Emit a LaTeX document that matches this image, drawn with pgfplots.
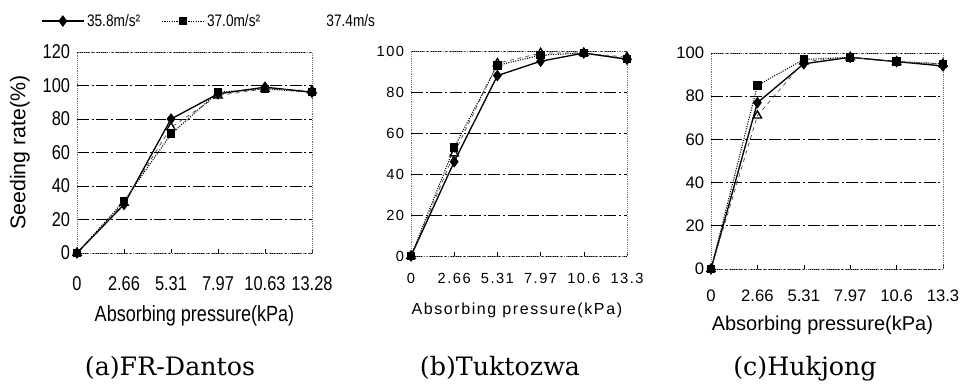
\documentclass[border=0pt]{standalone}
\usepackage{fontspec}
\setsansfont{Liberation Sans}
\newfontfamily\narrowsf[FakeStretch=0.82]{Liberation Sans}
\newfontfamily\spacedsf[LetterSpace=10]{Liberation Sans}
\newfontfamily\capfont{DejaVu Serif}
\usepackage{graphicx}
\usepackage{pgfplots}
\pgfplotsset{compat=1.18}

\pgfplotsset{
  panel/.style={
    scale only axis, clip=false, anchor=south west,
    xmin=0, xmax=5, xtick={0,1,2,3,4,5},
    ymin=0, ytick distance=20,
    axis line style={black!55, densely dotted},
    ymajorgrids,
    major grid style={black, line width=0.5pt, dash pattern=on 9pt off 2pt on 1.5pt off 2pt},
    xtick pos=bottom, ytick pos=left, tick align=inside,
    major tick length=3pt,
    xtick style={black, solid, thin}, ytick style={draw=none},
    /pgf/number format/assume math mode=true,
    xticklabel style={anchor=center},
    yticklabel style={anchor=east, inner sep=0pt, xshift=-5pt},
    every axis x label/.style={anchor=center},
    legend image code/.code={\draw[mark repeat=2,mark phase=2,##1] plot coordinates {(0cm,0cm) (0.55cm,0cm) (1.1cm,0cm)};},
  },
  sA/.style={black, line width=1pt, mark=diamond*, mark size=3.6pt, mark options={solid}},
  sB/.style={black, line width=0.8pt, densely dotted, mark=square*, mark size=2.8pt, mark options={solid}},
  sC/.style={black!75, line width=0.5pt, dashed, mark=triangle, mark size=3.6pt, mark options={solid, black, line width=1pt}},
}

\begin{document}
\begin{tikzpicture}
\path[use as bounding box] (0pt,0pt) rectangle (724.5pt,287.25pt);

% ---------- (a) FR-Dantos ----------
\begin{axis}[panel,
  at={(57.75pt,97.5pt)}, width=176.25pt, height=150.75pt,
  ymax=120,
  xticklabels={0,2.66,5.31,7.97,10.63,13.28},
  ticklabel style={font=\narrowsf\fontsize{15}{17}\selectfont},
  xticklabel style={yshift=-23.25pt},
  xlabel={Absorbing pressure(kPa)},
  xlabel style={at={(axis description cs:0.50,0)}, yshift=-47.25pt, font=\narrowsf\fontsize{16.5}{19}\selectfont},
  ylabel={Seeding rate(\%)},
  every axis y label/.style={at={(axis description cs:-0.243,0.5)}, anchor=center, rotate=90, font=\sffamily\fontsize{16}{18}\selectfont},
  legend style={at={(axis description cs:-0.153,1.154)}, anchor=west, draw=none, fill=none,
    font=\narrowsf\fontsize{12.5}{14}\selectfont, inner sep=0pt,
    /tikz/every even column/.append style={column sep=14pt}},
  legend columns=3,
]
\addplot[sA] coordinates {(0,0) (1,29) (2,80) (3,95) (4,99) (5,96)};
\addlegendentry{35.8m/s²}
\addplot[sB] coordinates {(0,0) (1,31) (2,71) (3,96) (4,98) (5,96)};
\addlegendentry{37.0m/s²}
\addplot[sC, forget plot] coordinates {(0,0) (1,30) (2,75) (3,94) (4,98) (5,97)};
\addlegendimage{white, draw opacity=0}
\addlegendentry{37.4m/s}
\end{axis}

% ---------- (b) Tuktozwa ----------
\begin{axis}[panel,
  at={(308.25pt,95.25pt)}, width=162pt, height=153.75pt,
  ymax=100,
  xticklabels={0,2.66,5.31,7.97,10.6,13.3},
  ticklabel style={font=\spacedsf\fontsize{11}{13}\selectfont},
  xticklabel style={yshift=-16.5pt},
  xlabel={Absorbing pressure(kPa)},
  xlabel style={at={(axis description cs:0.49,0)}, yshift=-40.5pt, font=\spacedsf\fontsize{12}{14}\selectfont},
]
\addplot[sA] coordinates {(0,0) (1,46) (2,88) (3,95) (4,99) (5,96)};
\addplot[sB] coordinates {(0,0) (1,53) (2,93) (3,98) (4,99) (5,96)};
\addplot[sC] coordinates {(0,0) (1,50) (2,94) (3,99) (4,99) (5,97)};
\end{axis}

% ---------- (c) Hukjong ----------
\begin{axis}[panel,
  at={(533.25pt,85.5pt)}, width=174pt, height=162pt,
  ymax=100,
  xticklabels={0,2.66,5.31,7.97,10.6,13.3},
  ticklabel style={font=\sffamily\fontsize{12.5}{14}\selectfont},
  xticklabel style={yshift=-20.25pt},
  xlabel={Absorbing pressure(kPa)},
  xlabel style={at={(axis description cs:0.48,0)}, yshift=-42pt, font=\sffamily\fontsize{15}{17}\selectfont},
]
\addplot[sA] coordinates {(0,0) (1,77) (2,95) (3,98) (4,96) (5,94)};
\addplot[sB] coordinates {(0,0) (1,85) (2,97) (3,98) (4,96) (5,95)};
\addplot[sC] coordinates {(0,0) (1,71) (2,96) (3,98) (4,96) (5,95)};
\end{axis}

% ---------- captions ----------
\node[anchor=base, font=\capfont\fontsize{19}{22}\selectfont, inner sep=0pt] at (127.5pt,6pt) {(a)FR-Dantos};
\node[anchor=base, font=\capfont\fontsize{19}{22}\selectfont, inner sep=0pt] at (375pt,6pt) {(b)Tuktozwa};
\node[anchor=base, font=\capfont\fontsize{19}{22}\selectfont, inner sep=0pt] at (603.75pt,6pt) {(c)Hukjong};
\end{tikzpicture}
\end{document}
